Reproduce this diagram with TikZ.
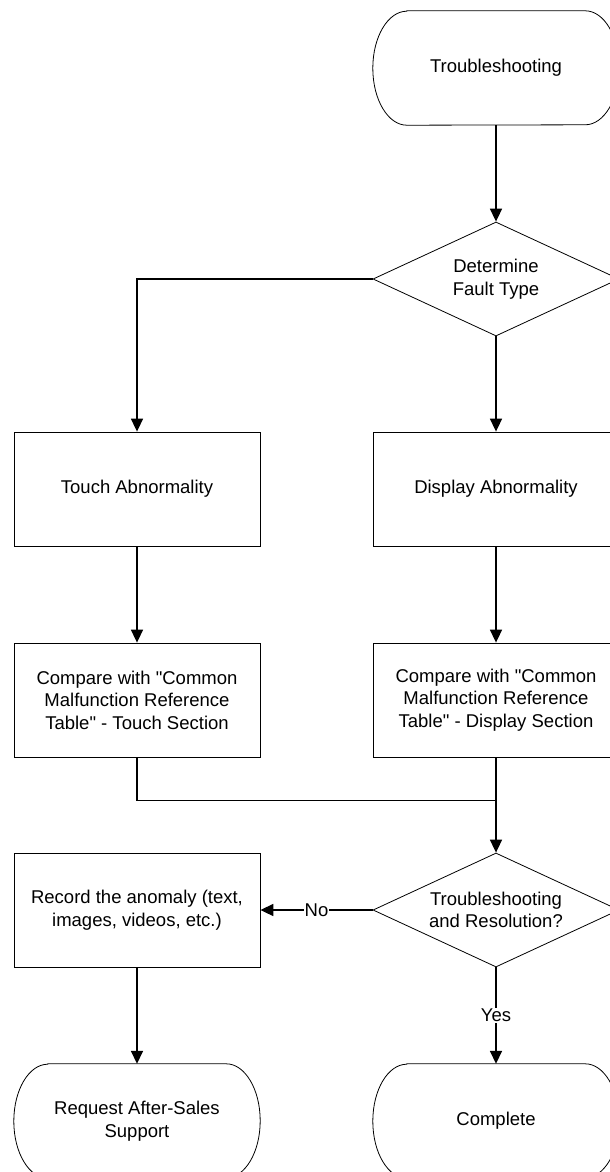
\documentclass[tikz,border=0pt]{standalone}
\usepackage{fontspec}
\newfontfamily\diagfont{Liberation Sans}
\usetikzlibrary{shapes.geometric,arrows.meta,positioning}

\begin{document}
\begin{tikzpicture}[x=1pt, y=1pt, font=\diagfont\fontsize{18.5}{22.5}\selectfont,
  box/.style={rectangle, draw, line width=0.8pt, minimum width=246pt, minimum height=114pt, align=center, inner sep=0pt},
  terminal/.style={rectangle, minimum width=246pt, minimum height=114pt, align=center, inner sep=0pt},
  decision/.style={diamond, aspect=2.2, draw, line width=0.8pt, minimum width=246pt, minimum height=114pt, align=center, inner sep=0pt},
  flow/.style={draw, line width=1.6pt, -{Triangle[length=13pt,width=12pt]}}]
\useasboundingbox (0,0) rectangle (610,-1172);
\fill[white] (0,0) rectangle (610,-1172);

\node[terminal] (start) at (496,-68) {Troubleshooting};
\node[decision] (fault) at (496,-279) {Determine\\Fault Type};
\node[box] (touch) at (137,-489) {Touch Abnormality};
\node[box] (display) at (496,-489) {Display Abnormality};
\node[box] (cmpT) at (137,-700) {Compare with "Common\\Malfunction Reference\\Table" - Touch Section};
\node[box] (cmpD) at (496,-700) {Compare with "Common\\Malfunction Reference\\Table" - Display Section};
\node[decision] (check) at (496,-910) {Troubleshooting\\and Resolution?};
\node[box] (record) at (137,-910) {Record the anomaly (text,\\images, videos, etc.)};
\node[terminal] (support) at (137,-1121) {Request After-Sales\\Support};
\node[terminal] (done) at (496,-1121) {Complete};

% Outline the terminals with half ellipses
\foreach \nm in {start, support, done}
\draw[line width=0.8pt] ([xshift=34pt]\nm.north west) -- ([xshift=-34pt]\nm.north east)
  arc[start angle=90, end angle=-90, x radius=34pt, y radius=57pt] -- ([xshift=34pt]\nm.south west)
  arc[start angle=270, end angle=90, x radius=34pt, y radius=57pt] -- cycle;

% Connect steps with arrows
\foreach \source/\dest in {start/fault, fault/display, touch/cmpT, display/cmpD, cmpD/check, record/support}
\path[flow] (\source) -- (\dest);

\path[flow] (fault.west) -| (touch.north);
\draw[line width=1.6pt] (cmpT.south) |- ([yshift=-43pt]cmpD.south);
\path[flow] (check) -- node[fill=white, inner sep=1pt] {No} (record);
\path[flow] (check) -- node[fill=white, inner sep=1pt] {Yes} (done);

\end{tikzpicture}
\end{document}
